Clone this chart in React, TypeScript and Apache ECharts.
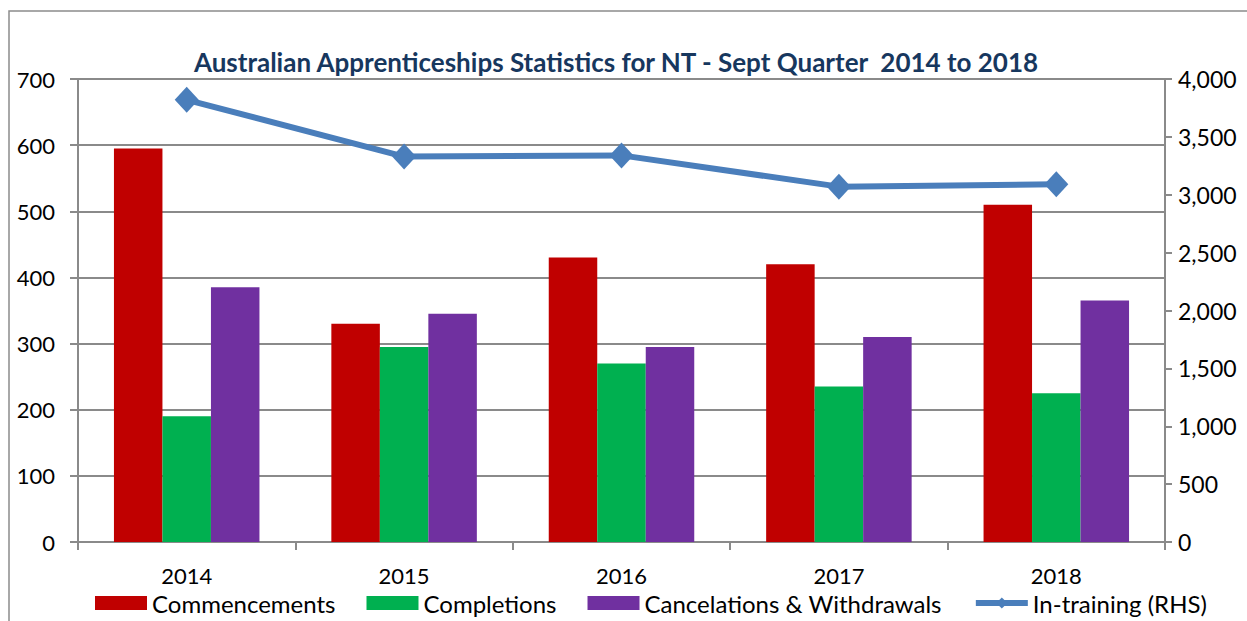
import React, { useEffect, useRef } from 'react';
import * as echarts from 'echarts';

const years = ['2014', '2015', '2016', '2017', '2018'];
const commencements = [595, 330, 430, 420, 510];
const completions = [190, 295, 270, 235, 225];
const cancellations = [385, 345, 295, 310, 365];
const inTraining = [3820, 3330, 3340, 3070, 3090];
const titleText = 'Australian Apprenticeships Statistics for NT - Sept Quarter  2014 to 2018';
const seriesNames = ['Commencements', 'Completions', 'Cancelations & Withdrawals', 'In-training (RHS)'];

const FONT = 'Lato';
const GREY = '#8a8a8a';
const LINE_BLUE = '#4a7ebb';

export default function App() {
  const ref = useRef<HTMLDivElement>(null);
  useEffect(() => {
    if (!ref.current) return;
    const chart = echarts.init(ref.current, null, { renderer: 'svg' });
    chart.setOption({
      animation: false,
      textStyle: { fontFamily: FONT },
      graphic: [
        {
          type: 'rect',
          shape: { x: 9, y: 11, width: 1400, height: 800 },
          style: { fill: 'none', stroke: '#8c8c8c', lineWidth: 1.5 },
          silent: true,
        },
        {
          type: 'text',
          x: 616,
          y: 62,
          style: {
            text: titleText,
            fontFamily: FONT,
            fontWeight: 'bold',
            fontSize: 26,
            fill: '#17375e',
            align: 'center',
            verticalAlign: 'middle',
          },
        },
      ],
      legend: {
        left: 95,
        top: 591,
        padding: 0,
        itemWidth: 52,
        itemHeight: 14,
        itemGap: 31,
        lineStyle: { width: 6 },
        textStyle: { fontFamily: FONT, fontSize: 24, lineHeight: 24, color: '#000' },
        data: [
          { name: seriesNames[0], icon: 'rect' },
          { name: seriesNames[1], icon: 'rect' },
          { name: seriesNames[2], icon: 'rect' },
          {
            name: seriesNames[3],
            lineStyle: { width: 6, color: LINE_BLUE },
            itemStyle: { color: LINE_BLUE },
          },
        ],
      },
      grid: { left: 78, right: 82, top: 79, bottom: 79, containLabel: false },
      xAxis: {
        type: 'category',
        data: years,
        boundaryGap: true,
        axisLine: { lineStyle: { color: GREY, width: 2 } },
        axisTick: { show: true, length: 8, lineStyle: { color: GREY, width: 2 } },
        axisLabel: { fontFamily: FONT, fontSize: 22, lineHeight: 21, color: '#000', margin: 23 },
      },
      yAxis: [
        {
          type: 'value',
          min: 0,
          max: 700,
          interval: 100,
          axisLine: { show: true, lineStyle: { color: GREY, width: 2 } },
          axisTick: { show: true, length: 8, lineStyle: { color: GREY, width: 2 } },
          splitLine: { show: true, lineStyle: { color: GREY, width: 2 } },
          axisLabel: { fontFamily: FONT, fontSize: 22, color: '#000', margin: 23 },
        },
        {
          type: 'value',
          min: 0,
          max: 4000,
          interval: 500,
          position: 'right',
          axisLine: { show: true, lineStyle: { color: GREY, width: 2 } },
          axisTick: { show: true, length: 7, lineStyle: { color: GREY, width: 2 } },
          splitLine: { show: false },
          axisLabel: {
            fontFamily: FONT,
            fontSize: 23,
            color: '#000',
            margin: 13,
            formatter: (v: number) => v.toLocaleString('en-US'),
          },
        },
      ],
      series: [
        {
          name: seriesNames[0],
          type: 'bar',
          data: commencements,
          barWidth: 48.5,
          barGap: '0%',
          itemStyle: { color: '#c00000' },
        },
        {
          name: seriesNames[1],
          type: 'bar',
          data: completions,
          barWidth: 48.5,
          barGap: '0%',
          itemStyle: { color: '#00b050' },
        },
        {
          name: seriesNames[2],
          type: 'bar',
          data: cancellations,
          barWidth: 48.5,
          barGap: '0%',
          itemStyle: { color: '#7030a0' },
        },
        {
          name: seriesNames[3],
          type: 'line',
          yAxisIndex: 1,
          data: inTraining,
          symbol: 'diamond',
          symbolSize: [24, 26],
          lineStyle: { color: LINE_BLUE, width: 6 },
          itemStyle: { color: LINE_BLUE },
          z: 5,
        },
      ],
    });
    return () => chart.dispose();
  }, []);
  return (
    <div
      ref={ref}
      style={{ position: 'fixed', left: 0, top: 0, width: 1247, height: 621, background: '#fff' }}
    />
  );
}
